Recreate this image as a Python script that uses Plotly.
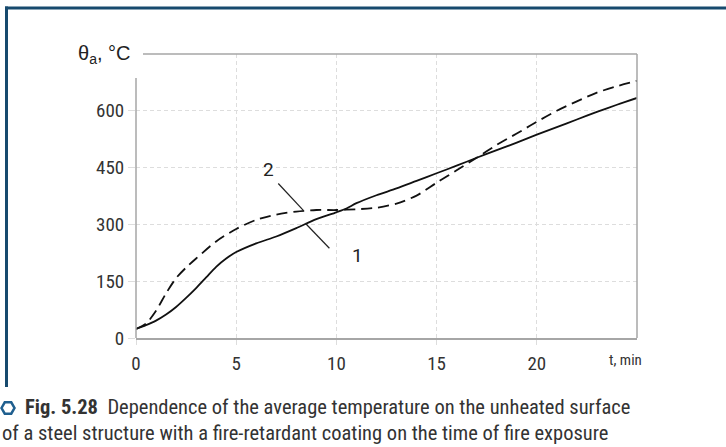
import plotly.graph_objects as go

# ---- data ----
t_solid = [0, 0.5, 1, 1.5, 2, 2.5, 3, 3.5, 4, 4.5, 5, 6, 7, 8, 9, 10, 10.5, 11, 12, 13, 14, 15, 16, 17, 18, 19, 20, 21, 22, 23, 24, 25]
theta_solid = [24, 34, 46, 62, 82, 106, 132, 160, 188, 210, 227, 250, 268, 290, 314, 332, 342, 356, 377, 395, 415, 435, 455, 476, 496, 516, 537, 557, 577, 597, 616, 634]

t_dash = [0, 0.5, 1, 1.5, 2, 2.5, 3, 4, 5, 6, 7, 8, 9, 10, 11, 12, 13, 14, 15, 16, 17, 18, 19, 20, 21, 22, 23, 24, 25]
theta_dash = [24, 38, 72, 118, 158, 186, 210, 255, 288, 312, 326, 334, 338, 338, 340, 344, 355, 376, 410, 443, 476, 510, 540, 571, 600, 625, 648, 665, 679]

x_ticks = [0, 5, 10, 15, 20]
y_ticks = [0, 150, 300, 450, 600]

curve_labels = ["1", "2"]
label_pos = [(11.05, 219), (6.6, 445)]
leader_lines = [((8.45, 303), (9.65, 237)), ((7.1, 408), (8.35, 337))]

y_title = "θ<sub>a</sub>, °C"
x_title = "t, min"
caption1 = "<b>Fig. 5.28</b>  Dependence of the average temperature on the unheated surface"
caption2 = "of a steel structure with a fire-retardant coating on the time of fire exposure"

# ---- layout geometry (pixels) ----
WIDTH, HEIGHT = 726, 447
L, R, T, B = 136, 89, 54, 109
PW = WIDTH - L - R
PH = HEIGHT - T - B


def px(x):
    return (x - L) / PW


def py(y):
    return (T + PH - y) / PH


COND = "Roboto Condensed, Noto Sans ExtraCondensed, Noto Sans Condensed, Liberation Sans Narrow, DejaVu Sans Condensed, sans-serif"
AXIS_COL = "#a6a6a6"
GRID_COL = "#dddddd"
BLUE = "#174a6e"

fig = go.Figure()
fig.add_trace(go.Scatter(x=t_solid, y=theta_solid, mode="lines",
                         line=dict(color="#111111", width=1.8, shape="spline", smoothing=0.8),
                         showlegend=False, hoverinfo="skip"))
fig.add_trace(go.Scatter(x=t_dash, y=theta_dash, mode="lines",
                         line=dict(color="#111111", width=1.8, dash="11px,6px", shape="spline", smoothing=0.8),
                         showlegend=False, hoverinfo="skip"))

shapes = []
shapes.append(dict(type="line", xref="paper", yref="paper", x0=1, x1=1, y0=0, y1=1,
                   line=dict(color=AXIS_COL, width=1.5)))
shapes.append(dict(type="line", xref="paper", yref="paper", x0=px(143), x1=1, y0=1, y1=1,
                   line=dict(color=AXIS_COL, width=1.5)))
shapes.append(dict(type="line", xref="paper", yref="paper", x0=0, x1=0, y0=0, y1=py(78),
                   line=dict(color=AXIS_COL, width=1.5)))
shapes.append(dict(type="line", xref="paper", yref="paper", x0=px(5), x1=px(730), y0=py(8), y1=py(8),
                   line=dict(color=BLUE, width=3)))
shapes.append(dict(type="line", xref="paper", yref="paper", x0=px(6.5), x1=px(6.5), y0=py(6.5), y1=py(387),
                   line=dict(color=BLUE, width=3)))
cx, cy, r = 8, 408, 6.5
hx = [cx - r, cx - r / 2, cx + r / 2, cx + r, cx + r / 2, cx - r / 2]
hy = [cy, cy - r * 0.87, cy - r * 0.87, cy, cy + r * 0.87, cy + r * 0.87]
path = "M " + " L ".join(f"{px(a):.5f},{py(b):.5f}" for a, b in zip(hx, hy)) + " Z"
shapes.append(dict(type="path", xref="paper", yref="paper", path=path,
                   line=dict(color="#1f5f8f", width=2.5)))
for (a, b) in leader_lines:
    shapes.append(dict(type="line", xref="x", yref="y", x0=a[0], y0=a[1], x1=b[0], y1=b[1],
                       line=dict(color="#222222", width=1.2)))

annotations = []
for lab, (lx, ly) in zip(curve_labels, label_pos):
    annotations.append(dict(x=lx, y=ly, xref="x", yref="y", text=lab, showarrow=False,
                            font=dict(family="Roboto, Liberation Sans, Arial, sans-serif", size=19, color="#222222")))
annotations.append(dict(x=px(132), y=py(54), xref="paper", yref="paper", text=y_title,
                        showarrow=False, xanchor="right", yanchor="middle",
                        font=dict(family="Liberation Sans, Arial, sans-serif", size=20, color="#222222")))
annotations.append(dict(x=px(625), y=py(360), xref="paper", yref="paper", text=x_title,
                        showarrow=False, xanchor="center", yanchor="middle",
                        font=dict(family=COND, size=15, color="#333333")))
annotations.append(dict(x=px(23), y=py(407), xref="paper", yref="paper", text=caption1,
                        showarrow=False, xanchor="left", yanchor="middle",
                        font=dict(family=COND, size=20.5, color="#333333")))
annotations.append(dict(x=px(0), y=py(433), xref="paper", yref="paper", text=caption2,
                        showarrow=False, xanchor="left", yanchor="middle",
                        font=dict(family=COND, size=20.5, color="#333333")))

fig.update_layout(
    width=WIDTH, height=HEIGHT,
    margin=dict(l=L, r=R, t=T, b=B, pad=0),
    paper_bgcolor="white", plot_bgcolor="white",
    shapes=shapes, annotations=annotations,
    xaxis=dict(range=[0, 25], tickvals=x_ticks, ticktext=[str(v) for v in x_ticks],
               showgrid=True, gridcolor=GRID_COL, griddash="4px,3px", gridwidth=1,
               zeroline=False, showline=True, linecolor=AXIS_COL, linewidth=1.5,
               ticks="outside", ticklen=5, tickcolor=GRID_COL, tickwidth=1,
               ticklabelstandoff=2,
               tickfont=dict(family=COND, size=19, color="#333333"), fixedrange=True),
    yaxis=dict(range=[0, 750], tickvals=y_ticks, ticktext=[str(v) for v in y_ticks],
               showgrid=True, gridcolor=GRID_COL, griddash="4px,3px", gridwidth=1,
               zeroline=False, showline=False,
               ticks="outside", ticklen=7, tickcolor=GRID_COL, tickwidth=1,
               tickfont=dict(family=COND, size=19, color="#333333"), fixedrange=True),
)

fig.write_html("out.html", config={"displayModeBar": False},
               post_script="document.body.style.margin='0';document.body.style.overflow='hidden';")
